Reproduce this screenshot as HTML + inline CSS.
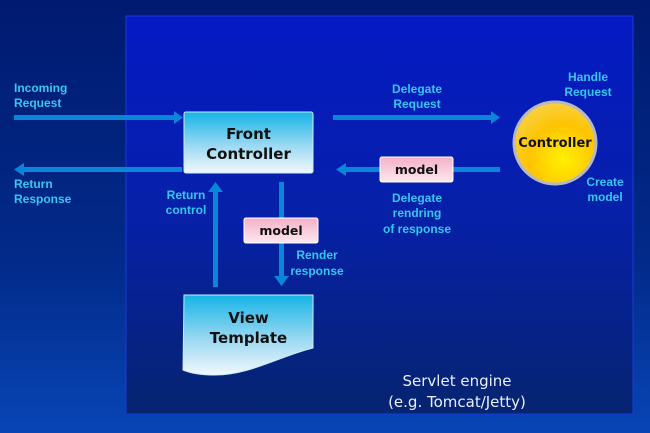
<!DOCTYPE html>
<html><head><meta charset="utf-8"><style>
html,body{margin:0;padding:0;width:650px;height:433px;overflow:hidden}
body{background:linear-gradient(180deg,#001a70 0%,#022a8a 60%,#0845b5 100%)}
svg{position:absolute;left:0;top:0}
text{font-family:"DejaVu Sans","Liberation Sans",sans-serif}
.c{fill:#35c6f2;font-size:12px;font-weight:bold;font-family:"Liberation Sans",sans-serif}
.k{fill:#111;font-weight:bold}
</style></head><body>
<svg width="650" height="433" viewBox="0 0 650 433">
<defs>
<linearGradient id="pn" x1="0" y1="0" x2="0" y2="1"><stop offset="0" stop-color="#051ac4"/><stop offset="0.5" stop-color="#0620a8"/><stop offset="1" stop-color="#062470"/></linearGradient>
<linearGradient id="bx" x1="0" y1="0" x2="0" y2="1"><stop offset="0" stop-color="#14b4e6"/><stop offset="0.55" stop-color="#9ad8f2"/><stop offset="1" stop-color="#f2f8fc"/></linearGradient>
<linearGradient id="md" x1="0" y1="0" x2="0" y2="1"><stop offset="0" stop-color="#f4b0c8"/><stop offset="1" stop-color="#fde8ef"/></linearGradient>
<radialGradient id="cy" cx="0.6" cy="0.7" r="0.7"><stop offset="0" stop-color="#fff000"/><stop offset="0.6" stop-color="#ffc400"/><stop offset="1" stop-color="#f7d040"/></radialGradient>
</defs>
<rect x="126" y="16" width="507" height="398" fill="url(#pn)" stroke="#1a3ad8" stroke-width="1"/>
<g fill="#0a86d8">
<rect x="14" y="115" width="162" height="5"/><polygon points="174,111 183,117.5 174,124"/>
<rect x="22" y="167" width="160" height="5"/><polygon points="24,163 14,169.5 24,176"/>
<rect x="333" y="115" width="160" height="5"/><polygon points="491,111 500,117.5 491,124"/>
<rect x="344" y="167" width="156" height="5"/><polygon points="346,163 336,169.5 346,176"/>
<rect x="213" y="190" width="5" height="97"/><polygon points="208,192 215.5,182 223,192"/>
<rect x="279" y="182" width="5" height="96"/><polygon points="274,276 281.5,286 289,276"/>
</g>
<rect x="184" y="112" width="129" height="61" rx="2" fill="url(#bx)" stroke="#c8ecfa"/>
<text class="k" x="248.5" y="139" font-size="15" text-anchor="middle">Front</text>
<text class="k" x="248.5" y="159" font-size="15" text-anchor="middle">Controller</text>
<path d="M184 295 H313 V348 C280 356 250 375 215 375 C200 375 190 373 183 370 Z" fill="url(#bx)" stroke="#c8ecfa"/>
<text class="k" x="248.5" y="323" font-size="15" text-anchor="middle">View</text>
<text class="k" x="248.5" y="343" font-size="15" text-anchor="middle">Template</text>
<rect x="380" y="157" width="73" height="25" rx="2" fill="url(#md)" stroke="#fff"/>
<text class="k" x="416.5" y="174" font-size="12.5" text-anchor="middle">model</text>
<rect x="244" y="218" width="74" height="25" rx="2" fill="url(#md)" stroke="#fff"/>
<text class="k" x="281" y="235" font-size="12.5" text-anchor="middle">model</text>
<circle cx="555" cy="143" r="41" fill="url(#cy)" stroke="#b8b8c0" stroke-width="3"/>
<text class="k" x="555" y="147" font-size="13" text-anchor="middle">Controller</text>
<text class="c" x="14" y="92">Incoming</text>
<text class="c" x="14" y="107">Request</text>
<text class="c" x="14" y="188">Return</text>
<text class="c" x="14" y="203">Response</text>
<text class="c" x="186" y="199" text-anchor="middle">Return</text>
<text class="c" x="186" y="214" text-anchor="middle">control</text>
<text class="c" x="317" y="259" text-anchor="middle">Render</text>
<text class="c" x="317" y="275" text-anchor="middle">response</text>
<text class="c" x="417" y="93" text-anchor="middle">Delegate</text>
<text class="c" x="417" y="108" text-anchor="middle">Request</text>
<text class="c" x="417" y="202" text-anchor="middle">Delegate</text>
<text class="c" x="417" y="217" text-anchor="middle">rendring</text>
<text class="c" x="417" y="233" text-anchor="middle">of response</text>
<text class="c" x="588" y="81" text-anchor="middle">Handle</text>
<text class="c" x="588" y="96" text-anchor="middle">Request</text>
<text class="c" x="605" y="186" text-anchor="middle">Create</text>
<text class="c" x="605" y="201" text-anchor="middle">model</text>
<text x="457" y="386" fill="#e8f0ff" font-size="15" text-anchor="middle" font-family="Liberation Sans,sans-serif">Servlet engine</text>
<text x="457" y="407" fill="#e8f0ff" font-size="15" text-anchor="middle" font-family="Liberation Sans,sans-serif">(e.g. Tomcat/Jetty)</text>
</svg>
</body></html>
